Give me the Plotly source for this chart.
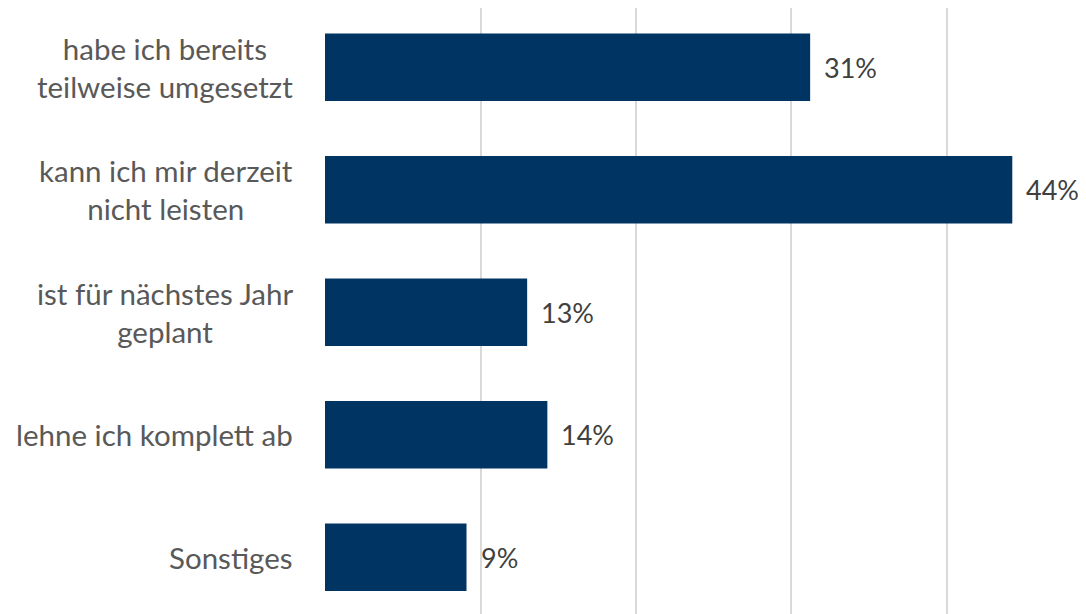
import plotly.graph_objects as go

categories = ["habe ich bereits<br>teilweise umgesetzt",
              "kann ich mir derzeit<br>nicht leisten",
              "ist für nächstes Jahr<br>geplant",
              "lehne ich komplett ab",
              "Sonstiges"]
values = [31.2, 44.2, 13.0, 14.3, 9.1]
value_labels = ["31%", "44%", "13%", "14%", "9%"]
xgrid = [0, 10, 20, 30, 40, 50]

pos = list(range(len(categories)))
FONT = "Lato"

fig = go.Figure(go.Bar(
    x=values, y=pos, orientation="h",
    marker=dict(color="#003462", line=dict(width=0)),
    width=0.55, hoverinfo="skip",
))

for p, c in zip(pos, categories):
    fig.add_annotation(x=0, xref="paper", y=p, yref="y", text=c,
                       xanchor="right", yanchor="middle", align="center",
                       xshift=-30, showarrow=False,
                       font=dict(family=FONT, size=29.5, color="#595959"))
for p, v, t in zip(pos, values, value_labels):
    fig.add_annotation(x=v, xref="x", y=p, yref="y", text=t,
                       xanchor="left", yanchor="middle", xshift=12,
                       showarrow=False,
                       font=dict(family=FONT, size=27, color="#404040"))

fig.update_layout(
    width=1078, height=606,
    margin=dict(l=317, r=0, t=0, b=0),
    paper_bgcolor="white", plot_bgcolor="white",
    showlegend=False,
    xaxis=dict(range=[0, 48.94], tickvals=xgrid, showticklabels=False,
               showgrid=True, gridcolor="#d9d9d9", gridwidth=2,
               zeroline=False, showline=False, fixedrange=True),
    yaxis=dict(range=[4.463, -0.4837], showticklabels=False, showgrid=False,
               zeroline=False, showline=False, fixedrange=True),
)

fig.write_html("out.html")
